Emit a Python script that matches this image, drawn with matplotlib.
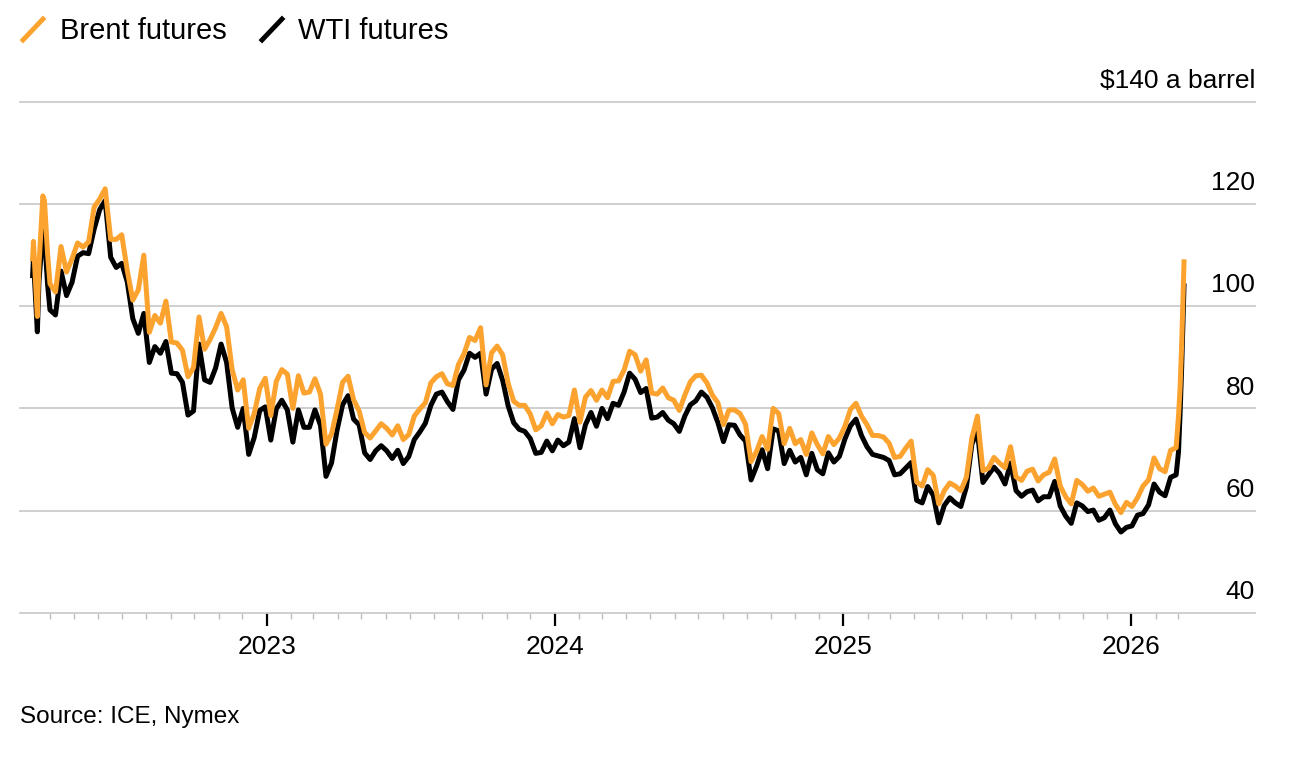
# -*- coding: utf-8 -*-
"""
Brent vs WTI futures, Mar 2022 - Mar 2026 (weekly values read off the chart)
"""
import pandas as pd
import matplotlib
matplotlib.use('Agg')
import matplotlib.pyplot as plt
import matplotlib.dates as mdates
import matplotlib.transforms as mtransforms
from matplotlib.lines import Line2D
from matplotlib.ticker import FixedLocator

plt.rcParams['font.family'] = ['Liberation Sans', 'DejaVu Sans']

# ============================  Data  ====================================
#-- March 2022 (denser, very volatile)
head_dates = ['2022-03-10', '2022-03-11', '2022-03-16', '2022-03-18',
              '2022-03-23', '2022-03-25', '2022-03-29']
brent_head = [109.3, 112.7, 98.0, 107.9, 121.6, 120.7, 110.2]
wti_head   = [106.0, 109.3, 95.0, 104.7, 114.9, 113.9, 104.2]

#-- weekly (Fridays) from 2022-04-01 to 2026-02-27
brent_2022 = [104.4, 102.8, 111.7, 106.7, 109.3,
              112.4, 111.6, 112.6, 119.4,
              121.0, 123.0, 113.1, 113.1,
              114.0, 107.0, 101.2, 103.2, 110.0,
              94.9, 98.2, 96.7, 101.0,
              93.0, 92.8, 91.4, 86.2, 88.0,
              97.9, 91.6, 93.5, 95.8,
              98.6, 96.0, 87.6, 83.6,
              85.6, 76.1, 79.0, 83.9, 85.9]
wti_2022   = [99.3, 98.3, 106.9, 102.1, 104.7,
              109.8, 110.5, 110.3, 115.1,
              118.9, 120.7, 109.6, 107.6,
              108.4, 104.8, 97.6, 94.7, 98.6,
              89.0, 92.1, 90.8, 93.1,
              86.9, 86.8, 85.1, 78.7, 79.5,
              92.6, 85.6, 85.1, 87.9,
              92.6, 89.0, 80.1, 76.3,
              80.0, 71.0, 74.3, 79.6, 80.3]

brent_2023 = [78.6, 85.3, 87.6, 86.7,
              80.0, 86.4, 83.0, 83.2,
              85.8, 82.8, 73.0, 75.0, 79.8,
              85.1, 86.3, 81.7, 79.5,
              75.3, 74.2, 75.6, 77.0,
              76.1, 74.8, 76.6, 73.9, 74.9,
              78.5, 79.9, 81.1, 85.0,
              86.2, 86.8, 84.8, 84.5,
              88.6, 90.7, 93.9, 93.3, 95.8,
              84.6, 90.9, 92.2, 90.5,
              84.9, 81.4, 80.6, 80.6,
              78.9, 75.8, 76.6, 79.1, 77.0]
wti_2023   = [73.8, 79.9, 81.6, 79.7,
              73.4, 79.7, 76.3, 76.3,
              79.7, 76.7, 66.7, 69.3, 75.7,
              80.7, 82.5, 77.9, 76.8,
              71.3, 70.0, 71.7, 72.7,
              71.7, 70.2, 71.8, 69.2, 70.6,
              73.9, 75.4, 77.1, 80.6,
              82.8, 83.2, 81.3, 79.8,
              85.6, 87.5, 90.8, 90.0, 90.8,
              82.8, 87.7, 88.8, 85.5,
              80.5, 77.2, 75.9, 75.5,
              74.1, 71.2, 71.4, 73.6, 71.7]

brent_2024 = [78.8, 78.3, 78.6, 83.6,
              77.3, 82.2, 83.5, 81.6,
              83.6, 82.1, 85.3, 85.4, 87.5,
              91.2, 90.5, 87.3, 89.5,
              83.0, 82.8, 84.0, 82.1, 81.6,
              79.6, 82.6, 85.2, 86.4,
              86.5, 85.0, 82.6, 81.1,
              76.8, 79.7, 79.7, 79.0, 76.9,
              69.6, 71.6, 74.5, 72.0,
              80.0, 79.0, 73.1, 76.1,
              73.1, 73.9, 71.0, 75.2, 72.9,
              71.1, 74.5, 72.9, 74.2]
wti_2024   = [73.8, 72.7, 73.4, 78.0,
              72.3, 76.8, 79.2, 76.5,
              80.0, 78.0, 81.0, 80.6, 83.2,
              86.9, 85.7, 83.1, 83.9,
              78.1, 78.3, 79.2, 77.7, 77.0,
              75.5, 78.5, 80.7, 81.5,
              83.2, 82.2, 80.1, 77.2,
              73.5, 76.8, 76.7, 74.8, 73.6,
              66.0, 68.7, 71.9, 68.2,
              76.0, 75.6, 69.2, 71.8,
              69.5, 70.4, 67.0, 71.2, 68.0,
              67.2, 71.3, 69.5, 70.6]

brent_2025 = [76.5, 79.8, 81.0, 78.5, 76.8,
              74.7, 74.7, 74.4, 73.2,
              70.4, 70.6, 72.2, 73.6,
              65.6, 64.8, 68.0, 66.9,
              61.3, 63.9, 65.4, 64.8, 63.9,
              66.5, 74.2, 78.5, 67.8,
              68.3, 70.4, 69.3, 68.4,
              72.5, 66.6, 65.9, 67.7, 68.1,
              65.8, 67.0, 67.5, 70.1,
              64.8, 62.7, 61.3, 65.9, 65.1,
              63.8, 64.4, 62.8, 63.2,
              63.6, 61.2, 59.6, 61.6]
wti_2025   = [74.0, 76.6, 77.9, 74.7, 72.5,
              71.0, 70.7, 70.4, 69.8,
              67.0, 67.2, 68.3, 69.4,
              62.0, 61.5, 64.7, 63.0,
              57.6, 61.0, 62.5, 61.5, 60.8,
              64.6, 73.0, 75.5, 65.5,
              67.0, 68.5, 67.3, 65.2,
              69.3, 63.9, 62.8, 63.7, 64.0,
              61.9, 62.7, 62.7, 65.7,
              60.9, 58.9, 57.5, 61.5, 60.9,
              59.8, 60.1, 58.1, 58.6,
              60.1, 57.4, 55.8, 56.7]

brent_2026 = [60.8, 62.5, 64.8, 66.0, 70.3, 68.2, 67.6, 71.8, 72.3]
wti_2026   = [57.0, 59.1, 59.4, 61.1, 65.2, 63.6, 62.9, 66.5, 67.0]

#-- the March 2026 surge
tail_dates = ['2026-03-02', '2026-03-04', '2026-03-06', '2026-03-09']
brent_tail = [78.5, 84.0, 92.5, 108.7]
wti_tail   = [71.5, 79.0, 88.0, 104.0]

y_ticks    = [40, 60, 80, 100, 120, 140]
y_labels   = ['40', '60', '80', '100', '120', '$140 a barrel']
year_ticks = ['2023', '2024', '2025', '2026']

# ============================  Build series  ============================
weeks = pd.date_range('2022-04-01', '2026-02-27', freq='W-FRI')
dates = (list(pd.to_datetime(head_dates)) + list(weeks)
         + list(pd.to_datetime(tail_dates)))
brent = (brent_head + brent_2022 + brent_2023 + brent_2024 + brent_2025
         + brent_2026 + brent_tail)
wti = (wti_head + wti_2022 + wti_2023 + wti_2024 + wti_2025
       + wti_2026 + wti_tail)
x = mdates.date2num(dates)

# ============================  Plot  ====================================
W, H = 1302, 758
ORANGE = '#FBA22F'
GRID = '#cccccc'

fig = plt.figure(figsize=(W / 100, H / 100), dpi=100)
ax = fig.add_axes([20 / W, (H - 612.7) / H, 1235 / W, 510.7 / H])

ax.plot(x, wti, color='black', lw=3.6, solid_joinstyle='round')
ax.plot(x, brent, color=ORANGE, lw=3.6, solid_joinstyle='round')

ax.set_xlim(mdates.date2num(pd.Timestamp('2022-02-22')),
            mdates.date2num(pd.Timestamp('2026-06-07')))
ax.set_ylim(40, 140)

for s in ax.spines.values():
    s.set_visible(False)

#-- horizontal grid + labels sitting on top of the lines
ax.set_yticks(y_ticks)
ax.tick_params(axis='y', length=0, labelleft=False)
ax.grid(axis='y', color=GRID, lw=1.3)
ax.set_axisbelow(True)
for gl in ax.get_ygridlines():
    gl.set_clip_on(False)
trans = mtransforms.offset_copy(ax.get_yaxis_transform(), fig=fig,
                                y=10, units='points')
for v, lab in zip(y_ticks, y_labels):
    ax.text(1.0, v, lab, transform=trans, ha='right', va='baseline',
            fontsize=19, color='black')

#-- x axis: years + monthly minor ticks
ax.set_xticks(mdates.date2num(pd.to_datetime([f'{y}-01-01' for y in year_ticks])))
ax.set_xticklabels(year_ticks)
months = pd.date_range('2022-04-01', '2026-03-01', freq='MS')
ax.xaxis.set_minor_locator(FixedLocator(mdates.date2num(months)))
ax.tick_params(axis='x', which='major', length=9, width=1.6, color='black',
               pad=7, labelsize=19)
ax.tick_params(axis='x', which='minor', length=4.5, width=1.0, color='#bdbdbd')

#-- legend (slash markers like the original)
px = mtransforms.IdentityTransform()
fig.add_artist(Line2D([23, 43], [H - 40, H - 19], color=ORANGE, lw=3.5,
                      transform=px))
fig.add_artist(Line2D([262, 282], [H - 40, H - 19], color='black', lw=3.5,
                      transform=px))
fig.text(60 / W, 1 - 31 / H, 'Brent futures', fontsize=21, va='center')
fig.text(298 / W, 1 - 31 / H, 'WTI futures', fontsize=21, va='center')

fig.text(20 / W, 1 - 717 / H, 'Source: ICE, Nymex', fontsize=17.5, va='center')

plt.savefig('out.png', dpi=100)
